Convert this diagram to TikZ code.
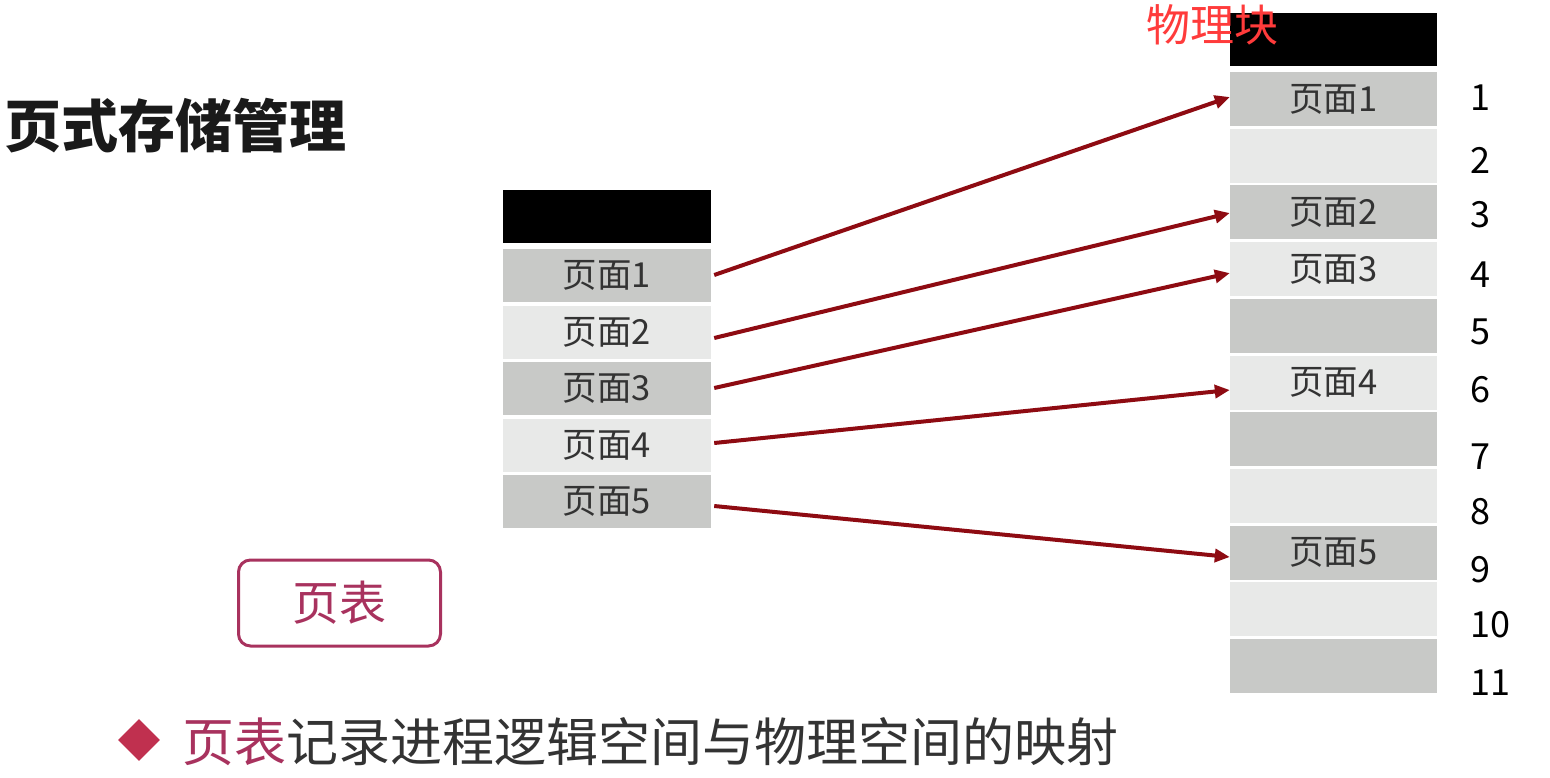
\documentclass[tikz,border=0pt]{standalone}
\usepackage{fontspec}
\setmainfont{Noto Sans CJK SC}
\usetikzlibrary{arrows.meta,shapes.geometric,calc}
\definecolor{darkcell}{HTML}{C8C9C7}
\definecolor{lightcell}{HTML}{E8E9E8}
\definecolor{arrowred}{HTML}{8E0B12}
\definecolor{crimson}{HTML}{A8325E}
\definecolor{diamondred}{HTML}{C0304F}
\definecolor{textgray}{HTML}{333333}
\definecolor{labelred}{HTML}{FF3B3B}
\definecolor{titleblack}{HTML}{1A1A1A}
\begin{document}
\begin{tikzpicture}[x=1pt,y=-1pt,
  lcell/.style={minimum width=208pt, minimum height=53pt, inner sep=0pt, text=textgray, font=\fontsize{34.5}{34.5}\selectfont},
  rcell/.style={minimum width=207pt, minimum height=54pt, inner sep=0pt, text=textgray, font=\fontsize{34.5}{34.5}\selectfont},
  dk/.style={fill=darkcell},
  lt/.style={fill=lightcell},
  hdr/.style={fill=black},
  blocknum/.style={inner sep=0pt, text=black, font=\fontsize{36}{36}\selectfont},
  maparrow/.style={draw=arrowred, line width=4pt, -{Triangle[length=15pt,width=13pt]}},
]
\useasboundingbox (0,0) rectangle (1550,777);

% title
\node[anchor=west, inner sep=0pt, text=titleblack, font=\fontsize{57}{57}\selectfont\bfseries] (title) at (4,126) {页式存储管理};

% left page table
\node[lcell, hdr] (lh) at (607,216.5) {};
\node[lcell, dk] (l1) at (607,275.5) {页面1};
\node[lcell, lt] (l2) at (607,332) {页面2};
\node[lcell, dk] (l3) at (607,388.5) {页面3};
\node[lcell, lt] (l4) at (607,445) {页面4};
\node[lcell, dk] (l5) at (607,501.5) {页面5};

% right physical blocks
\node[rcell, hdr, minimum height=53pt] (rh) at (1333.5,39.5) {};
\node[rcell, dk] (r1) at (1333.5,99) {页面1};
\node[rcell, lt] (r2) at (1333.5,155.7) {};
\node[rcell, dk] (r3) at (1333.5,212.4) {页面2};
\node[rcell, lt] (r4) at (1333.5,269.1) {页面3};
\node[rcell, dk] (r5) at (1333.5,325.8) {};
\node[rcell, lt] (r6) at (1333.5,382.5) {页面4};
\node[rcell, dk] (r7) at (1333.5,439.2) {};
\node[rcell, lt] (r8) at (1333.5,495.9) {};
\node[rcell, dk] (r9) at (1333.5,552.6) {页面5};
\node[rcell, lt] (r10) at (1333.5,609.3) {};
\node[rcell, dk] (r11) at (1333.5,666) {};

\node[inner sep=0pt, text=labelred, font=\fontsize{44}{44}\selectfont] (phys) at (1212,25) {物理块};

% block numbers
\node[blocknum] (n1) at (1480,98) {1};
\node[blocknum] (n2) at (1480,160) {2};
\node[blocknum] (n3) at (1480,215) {3};
\node[blocknum] (n4) at (1480,275) {4};
\node[blocknum] (n5) at (1480,332) {5};
\node[blocknum] (n6) at (1480,390) {6};
\node[blocknum] (n7) at (1480,457) {7};
\node[blocknum] (n8) at (1480,512) {8};
\node[blocknum] (n9) at (1480,570) {9};
\node[blocknum] (n10) at (1490,625) {10};
\node[blocknum] (n11) at (1490,683) {11};

% mapping arrows
\draw[maparrow] ($(l1.east)+(3,-0.5)$) -- ($(r1.west)+(0,-2)$);
\draw[maparrow] ($(l2.east)+(3,6)$) -- ($(r3.west)+(0,0.6)$);
\draw[maparrow] ($(l3.east)+(3,-0.5)$) -- ($(r4.west)+(0,4)$);
\draw[maparrow] ($(l4.east)+(3,-2)$) -- ($(r6.west)+(0,7.5)$);
\draw[maparrow] ($(l5.east)+(3,4.5)$) -- ($(r9.west)+(0,4.4)$);

% page table label box
\node[draw=crimson, line width=3pt, rounded corners=12pt, minimum width=202pt, minimum height=86pt, text=crimson, font=\fontsize{47}{47}\selectfont] (pt) at (339.5,603) {页表};

% bottom bullet line
\node[diamond, fill=diamondred, minimum width=42pt, minimum height=42pt, inner sep=0pt] (bullet) at (139,740) {};
\node[anchor=west, inner sep=0pt, text=textgray, font=\fontsize{52}{52}\selectfont] (caption) at (182,742) {\textcolor{crimson}{页表}记录进程逻辑空间与物理空间的映射};
\end{tikzpicture}
\end{document}
